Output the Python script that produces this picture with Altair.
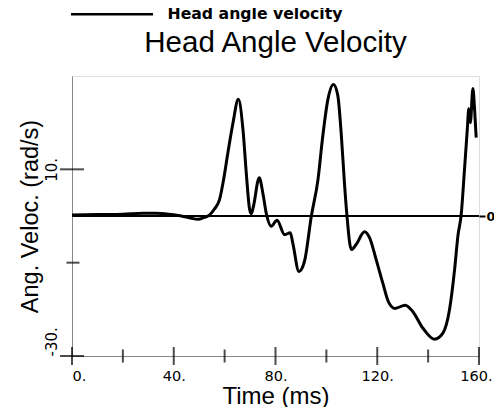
import altair as alt
import pandas as pd

# ---- data ----
time_ms = [0, 10, 20, 28, 33, 38, 43, 47, 49.5, 52, 54, 56, 58, 59.5, 61.3, 63.3,
           65.4, 67.2, 68.5, 69.8, 70.5, 71.3, 73.6, 75, 76.4, 78.3, 80.6, 83.6,
           85.8, 86.8, 89.2, 91.4, 94.1, 96.7, 98.6, 100.6, 102.8, 104.5, 105.8,
           107.1, 108.1, 109.8, 111.7, 115, 117, 119.6, 122.2, 124.5, 127, 131,
           134, 137.9, 142.5, 145.8, 148.4, 150.4, 151.7, 153, 154.3, 155.4, 156,
           156.6, 157.6, 158.3, 158.9]
ang_vel = [0.2, 0.3, 0.4, 0.6, 0.6, 0.4, 0.0, -0.5, -0.7, -0.3, 0.2, 1.5, 3.5, 7.5,
           13.6, 20, 25, 18.6, 9.3, 1.5, 0.5, 2, 8.2, 5, 0.5, -2.2, -0.9, -4,
           -3.6, -5.8, -11.9, -9.7, 0, 7.8, 17.2, 25, 28.2, 25.8, 17.9, 7.1, 0,
           -7.2, -6.1, -3.4, -4.7, -9.4, -14.4, -18.5, -19.8, -19.1, -20.5, -24,
           -26.4, -25.1, -20.1, -11.5, -4.3, 0.3, 10, 18.6, 23, 20, 27.3, 22.5, 16.8]
series_name = "Head angle velocity"

x_major = [0, 40, 80, 120, 160]
x_minor = [20, 60, 100, 140]
y_major = [10, -30]
y_minor = [-10]
y_tick_values = [10, -10, -30]
zero_line = [0]

W, H = 407, 280
LEG_Y = -69.8

df = pd.DataFrame({"t": time_ms, "v": ang_vel, "series": series_name})
xscale = alt.Scale(domain=[0, 160], nice=False, zero=False)
yscale = alt.Scale(domain=[-30, 30], nice=False, zero=False)

x_axis = alt.Axis(
    values=x_major, title="Time (ms)", labelExpr="datum.value + '.'",
    ticks=False, tickSize=0, labelPadding=13, grid=False,
    labelFont="DejaVu Sans", labelFontSize=14.5,
    labelAlign=alt.condition("datum.value == 0", alt.value("left"), alt.value("center")),
    labelOffset=alt.condition("datum.value == 160", alt.value(-3), alt.value(0)),
    titleFont="Liberation Sans", titleFontSize=24, titleFontWeight="normal",
    titleBaseline="alphabetic", titleY=47.5)

line = alt.Chart(df).mark_line(interpolate="monotone", strokeWidth=3, strokeJoin="round").encode(
    x=alt.X("t:Q", scale=xscale, axis=x_axis),
    y=alt.Y("v:Q", scale=yscale, axis=alt.Axis(
        values=y_tick_values, title="Ang. Veloc. (rad/s)",
        labelExpr="datum.value == -10 ? '' : datum.value + '.'",
        ticks=False, tickSize=0, labelPadding=16, grid=False, labelAngle=-90,
        labelBaseline="alphabetic",
        labelAlign=alt.condition("datum.value == -30", alt.value("left"), alt.value("center")),
        labelFont="DejaVu Sans", labelFontSize=15,
        titleFont="Liberation Sans", titleFontSize=23.5, titleFontWeight="normal",
        titleAngle=-90, titleX=-35, titleY=140, titleAlign="center",
        titleBaseline="alphabetic")),
    color=alt.Color("series:N", scale=alt.Scale(domain=[series_name], range=["black"]),
                    legend=alt.Legend(orient="none", legendX=-2.5, legendY=LEG_Y, title=None,
                                      symbolType="stroke", symbolSize=6724, symbolStrokeWidth=2.5,
                                      clipHeight=16, labelLimit=400,
                                      labelFont="DejaVu Sans", labelFontWeight="bold",
                                      labelFontSize=15.7, labelOffset=13, labelColor="black",
                                      padding=0))
)

zero = alt.Chart(pd.DataFrame({"v": zero_line})).mark_rule(strokeWidth=2, color="black").encode(
    y=alt.Y("v:Q", scale=yscale, axis=alt.Axis(
        orient="right", values=zero_line, title=None, domain=False, grid=False,
        tickSize=6, tickWidth=2, tickColor="black", labelPadding=1,
        labelFont="DejaVu Sans", labelFontSize=12.5, labelFontWeight="bold",
        labelColor="black"))
)

xt_major = alt.Chart(pd.DataFrame({"t": x_major})).mark_tick(
    orient="vertical", size=18, thickness=2, color="black").encode(
    x=alt.X("t:Q", scale=xscale, axis=x_axis), y=alt.value(H))
xt_minor = alt.Chart(pd.DataFrame({"t": x_minor})).mark_tick(
    orient="vertical", size=13, thickness=2, color="black").encode(
    x=alt.X("t:Q", scale=xscale, axis=x_axis), y=alt.value(H))
yt_major = alt.Chart(pd.DataFrame({"v": y_major})).mark_tick(
    orient="horizontal", size=24, thickness=2, color="black").encode(
    y=alt.Y("v:Q", scale=yscale, axis=None), x=alt.value(0))
yt_minor = alt.Chart(pd.DataFrame({"v": y_minor})).mark_tick(
    orient="horizontal", size=13, thickness=2, color="black").encode(
    y=alt.Y("v:Q", scale=yscale, axis=None), x=alt.value(1))

chart = alt.layer(zero, line, xt_major, xt_minor, yt_major, yt_minor).resolve_axis(
    y="independent"
).properties(
    width=W, height=H,
    autosize=alt.AutoSizeParams(type="none"),
    padding={"left": 64, "top": 68, "right": 15, "bottom": 51},
    title=alt.TitleParams("Head Angle Velocity", font="Liberation Sans", fontSize=29.5,
                          fontWeight="normal", anchor="middle", frame="group",
                          baseline="alphabetic", offset=0, dy=75, color="black"),
).configure_view(
    stroke="black", strokeWidth=2
).configure_axis(
    domainColor="black", domainWidth=2, labelColor="black", titleColor="black"
).configure(background="white")

chart.save("out.html", embed_options={"renderer": "svg", "actions": False})
